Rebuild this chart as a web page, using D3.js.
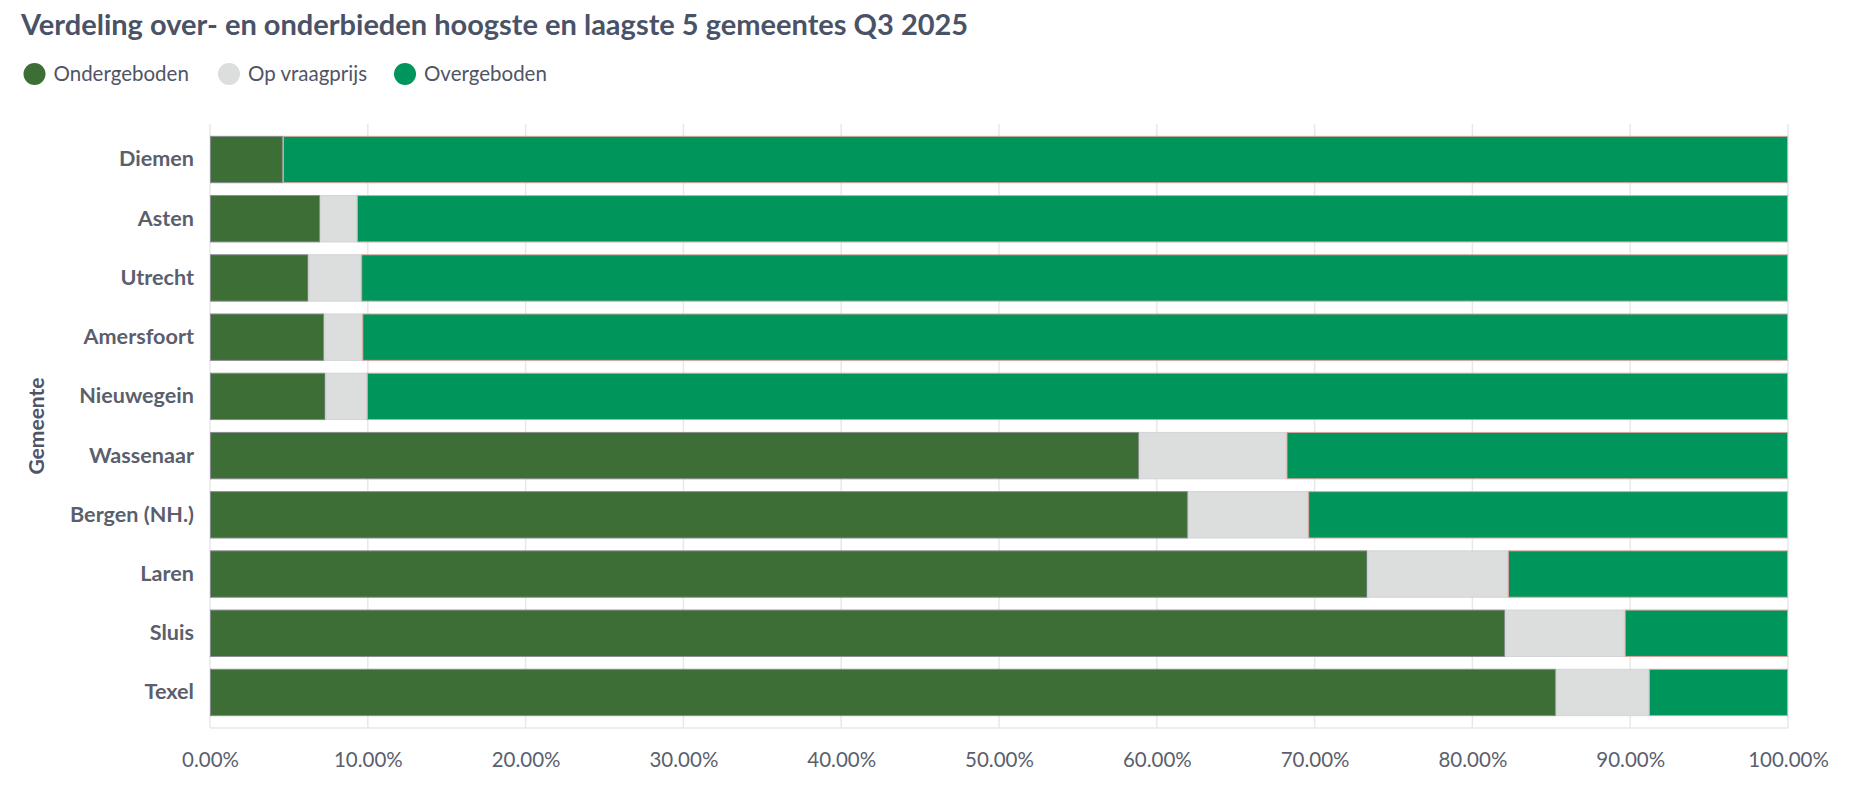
<!DOCTYPE html>
<html>
<head>
<meta charset="utf-8">
<script src="https://cdn.jsdelivr.net/npm/d3@7"></script>
<style>
  html, body { margin: 0; padding: 0; background: #ffffff; }
  svg text { font-family: Lato, "Open Sans", sans-serif; }
</style>
</head>
<body>
<svg id="chart" width="1870" height="790"></svg>
<script>
// ---- data ----
const gemeenten = ["Diemen", "Asten", "Utrecht", "Amersfoort", "Nieuwegein", "Wassenaar", "Bergen (NH.)", "Laren", "Sluis", "Texel"];
const ondergeboden = [4.62, 6.98, 6.24, 7.24, 7.32, 58.88, 61.97, 73.35, 82.08, 85.29];
const opVraagprijs = [0.0, 2.33, 3.34, 2.41, 2.62, 9.34, 7.62, 8.90, 7.57, 5.90];
const overgeboden = ondergeboden.map((d, i) => 100 - d - opVraagprijs[i]);
const seriesNames = ["Ondergeboden", "Op vraagprijs", "Overgeboden"];
const seriesColors = ["#3c6e35", "#dcdedd", "#00955a"];
const seriesStrokes = ["#888c92", "#d2d4d5", "#dba39d"];
const tickValues = [0, 10, 20, 30, 40, 50, 60, 70, 80, 90, 100];
const titleText = "Verdeling over- en onderbieden hoogste en laagste 5 gemeentes Q3 2025";
const yAxisTitle = "Gemeente";

const rows = gemeenten.map((g, i) => ({
  gemeente: g,
  "Ondergeboden": ondergeboden[i],
  "Op vraagprijs": opVraagprijs[i],
  "Overgeboden": overgeboden[i]
}));

const svg = d3.select("#chart");
const margin = { left: 210, right: 82, top: 124, bottom: 62 };
const W = 1870, H = 790;

const x = d3.scaleLinear().domain([0, 100]).range([margin.left, W - margin.right]);
const y = d3.scaleBand().domain(gemeenten).range([margin.top, H - margin.bottom])
  .paddingInner(0.2).paddingOuter(0.2);

const textColor = "#5b5f6d";
const gridColor = "#e8e8e8";

// title
svg.append("text")
  .attr("x", 21).attr("y", 35)
  .attr("font-size", 29).attr("font-weight", 700)
  .attr("fill", "#4a5267")
  .text(titleText);

// legend
const legendX = [34.5, 229, 405];
const legend = svg.append("g");
seriesNames.forEach((name, i) => {
  legend.append("circle")
    .attr("cx", legendX[i]).attr("cy", 74).attr("r", 11)
    .attr("fill", seriesColors[i]);
  legend.append("text")
    .attr("x", legendX[i] + 19).attr("y", 74).attr("dy", "0.35em")
    .attr("font-size", 20.5).attr("fill", "#4f5566")
    .text(name);
});

// grid
svg.append("g")
  .selectAll("line")
  .data(tickValues)
  .join("line")
  .attr("x1", d => x(d)).attr("x2", d => x(d))
  .attr("y1", margin.top).attr("y2", H - margin.bottom)
  .attr("stroke", gridColor).attr("stroke-width", 1.5);

// bottom axis line
svg.append("line")
  .attr("x1", x(0)).attr("x2", x(100))
  .attr("y1", H - margin.bottom).attr("y2", H - margin.bottom)
  .attr("stroke", gridColor).attr("stroke-width", 1.5);

// stacked bars
const stack = d3.stack().keys(seriesNames);
const stacked = stack(rows);

svg.append("g")
  .selectAll("g")
  .data(stacked)
  .join("g")
  .attr("fill", (d, i) => seriesColors[i])
  .attr("stroke", (d, i) => seriesStrokes[i])
  .attr("stroke-width", 1)
  .selectAll("rect")
  .data(d => d.filter(s => s[1] - s[0] > 0))
  .join("rect")
  .attr("x", d => x(d[0]) + 0.5)
  .attr("y", d => y(d.data.gemeente) + 0.5)
  .attr("width", d => Math.max(0, x(d[1]) - x(d[0]) - 1))
  .attr("height", y.bandwidth() - 1);

// x axis
const xAxis = d3.axisBottom(x).tickValues(tickValues)
  .tickFormat(d => d.toFixed(2) + "%").tickSize(0).tickPadding(24);
const gx = svg.append("g")
  .attr("transform", `translate(0,${H - margin.bottom})`)
  .call(xAxis);
gx.select(".domain").remove();
gx.selectAll("text").attr("font-size", 20.5).attr("fill", textColor)
  .attr("font-family", "Lato, sans-serif");

// y axis
const yAxis = d3.axisLeft(y).tickSize(0).tickPadding(16);
const gy = svg.append("g")
  .attr("transform", `translate(${margin.left},0)`)
  .call(yAxis);
gy.select(".domain").remove();
gy.selectAll("text").attr("font-size", 21.6).attr("font-weight", 700)
  .attr("fill", textColor).attr("font-family", "Lato, sans-serif");

// y axis title
svg.append("text")
  .attr("transform", `translate(44,${(margin.top + H - margin.bottom) / 2}) rotate(-90)`)
  .attr("text-anchor", "middle")
  .attr("font-size", 21).attr("font-weight", 700)
  .attr("fill", "#4f5568")
  .text(yAxisTitle);
</script>
</body>
</html>
